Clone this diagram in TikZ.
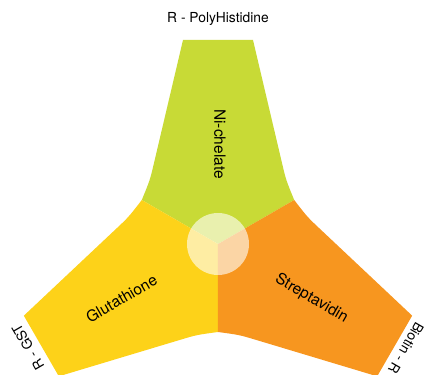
\documentclass[tikz,border=0pt]{standalone}
\usepackage{fontspec}
\setmainfont{TeX Gyre Heros}
\usetikzlibrary{math}
\definecolor{nigreen}{HTML}{C8DA36}
\definecolor{gstyellow}{HTML}{FDD219}
\definecolor{strorange}{HTML}{F7961F}
\tikzset{armlabel/.style={inner sep=0pt, font=\fontsize{15.5}{18}\selectfont},
	endlabel/.style={inner sep=0pt, font=\fontsize{13.8}{16}\selectfont}}

\begin{document}
\begin{tikzpicture}[x=1pt,y=1pt]
	\tikzmath{\armlen=204; \halfw=35; \notch=88;
	\bendx=64; \bendy=81; \ctrlx=68; \ctrly=64; \hub=31;
	\xlow=-218; \xup=208; \ylow=-131; \yup=244;}
	\useasboundingbox (\xlow,\ylow) rectangle (\xup,\yup);
	\foreach \ang/\col in {0/nigreen, 120/gstyellow, -120/strorange}{
		\begin{scope}[rotate=\ang]
			\fill[\col] (0,0) -- (150:\notch) .. controls (-\ctrlx,\ctrly) .. (-\bendx,\bendy)
			-- (-\halfw,\armlen) -- (\halfw,\armlen) -- (\bendx,\bendy)
			.. controls (\ctrlx,\ctrly) .. (30:\notch) -- cycle;
		\end{scope}
	}
	\fill[white, opacity=0.6] (0,0) circle (\hub);

	\node[endlabel] (polyhis) at (0,225) {R - PolyHistidine};
	\node[endlabel, rotate=120] (rgst) at (-190,-103) {R - GST};
	\node[endlabel, rotate=-120] (biotin) at (188,-104) {Biotin - R};
	\node[armlabel, rotate=-90] (nichelate) at (2,100) {Ni-chelate};
	\node[armlabel, rotate=30] (glut) at (-96.5,-54.5) {Glutathione};
	\node[armlabel, rotate=-30] (strept) at (93.5,-54.5) {Streptavidin};
\end{tikzpicture}
\end{document}
